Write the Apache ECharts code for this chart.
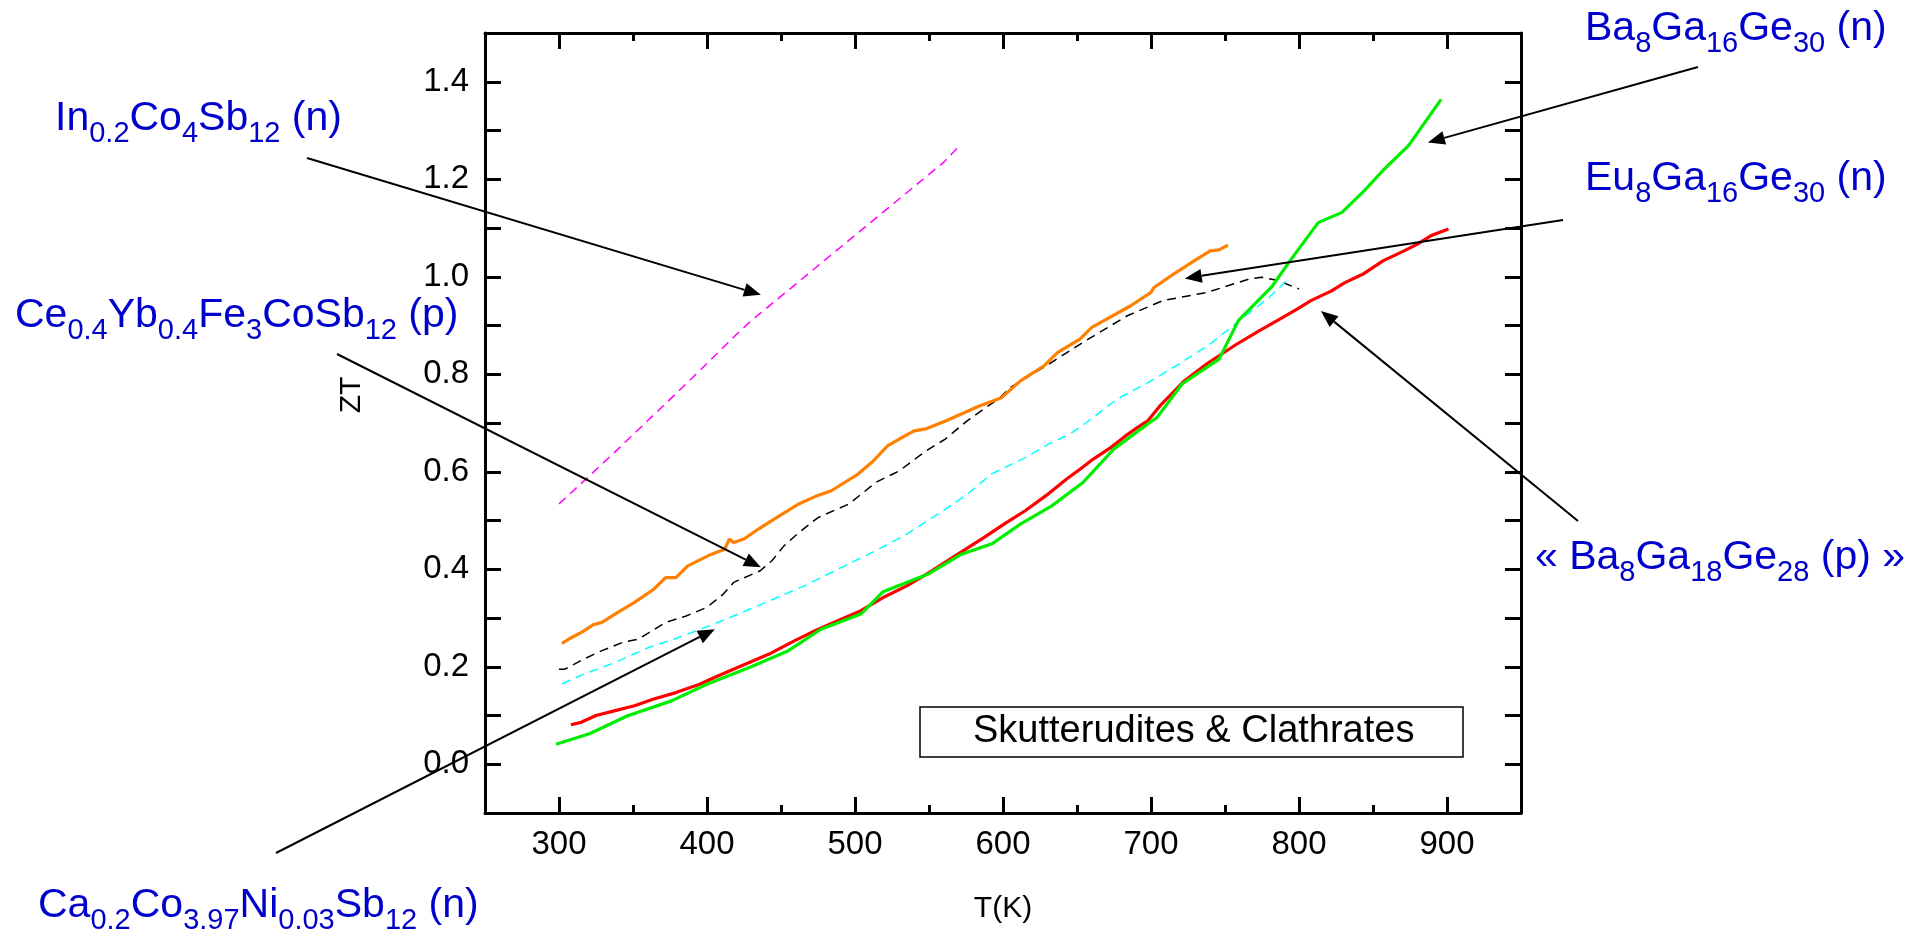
<!DOCTYPE html>
<html>
<head>
<meta charset="utf-8">
<script src="https://cdn.jsdelivr.net/npm/echarts@6/dist/echarts.min.js"></script>
<style>
  html, body { margin: 0; padding: 0; background: #fff; }
  #main { width: 1915px; height: 935px; }
</style>
</head>
<body>
<div id="main"></div>
<script>
// ZT versus temperature for skutterudite and clathrate thermoelectrics

// Axis ranges and tick labels
const xMin = 250, xMax = 950;
const yMin = -0.1, yMax = 1.5;
const xMajorTicks = [300, 400, 500, 600, 700, 800, 900];

// In0.2Co4Sb12 (n) - magenta dashed
const inT  = [300, 320, 340, 360, 380, 400, 420, 430, 440, 460, 480, 500, 520, 540, 560, 570];
const inZT = [0.534, 0.59, 0.647, 0.705, 0.763, 0.822, 0.882, 0.91, 0.935, 0.985, 1.035, 1.085, 1.135, 1.185, 1.235, 1.267];

// Ce0.4Yb0.4Fe3CoSb12 (p) - orange
const ceT  = [302, 308, 316, 323, 329, 340, 351, 364, 372, 379, 387, 401, 412, 415, 418, 425, 435, 447, 462, 473, 484, 501, 512, 522, 531, 540, 548, 562, 584, 599, 612, 628, 637, 652, 660, 686, 700, 702, 715, 731, 740, 746, 752];
const ceZT = [0.248, 0.259, 0.272, 0.286, 0.291, 0.312, 0.332, 0.359, 0.383, 0.383, 0.407, 0.428, 0.441, 0.462, 0.455, 0.462, 0.483, 0.506, 0.534, 0.549, 0.561, 0.593, 0.621, 0.653, 0.669, 0.684, 0.688, 0.705, 0.735, 0.752, 0.787, 0.818, 0.845, 0.872, 0.896, 0.94, 0.968, 0.978, 1.005, 1.036, 1.053, 1.055, 1.065];

// "Ba8Ga18Ge28 (p)" - black dashed
const bkT  = [300, 304, 317, 329, 343, 354, 372, 385, 400, 411, 418, 436, 444, 452, 462, 475, 496, 514, 530, 548, 561, 576, 598, 605, 629, 656, 684, 708, 738, 766, 775, 785, 800];
const bkZT = [0.195, 0.195, 0.216, 0.233, 0.25, 0.257, 0.291, 0.303, 0.322, 0.349, 0.373, 0.397, 0.418, 0.448, 0.475, 0.506, 0.534, 0.578, 0.602, 0.643, 0.667, 0.705, 0.752, 0.773, 0.817, 0.869, 0.92, 0.951, 0.968, 0.995, 0.999, 0.993, 0.975];

// Ca0.2Co3.97Ni0.03Sb12 (n) - cyan dashed
const caT  = [302, 317, 338, 361, 379, 400, 421, 442, 468, 493, 514, 535, 561, 576, 592, 615, 631, 645, 656, 677, 698, 719, 740, 761, 780, 794];
const caZT = [0.165, 0.185, 0.209, 0.24, 0.258, 0.282, 0.308, 0.335, 0.369, 0.407, 0.438, 0.472, 0.523, 0.554, 0.595, 0.629, 0.657, 0.677, 0.70, 0.749, 0.783, 0.821, 0.862, 0.913, 0.958, 0.999];

// Eu8Ga16Ge30 (n) - red
const euT  = [308, 315, 325, 338, 351, 364, 379, 395, 405, 421, 442, 457, 473, 488, 504, 519, 535, 550, 568, 587, 602, 615, 629, 643, 652, 661, 673, 683, 691, 698, 706, 722, 738, 757, 773, 787, 799, 808, 822, 831, 843, 857, 871, 880, 889, 901];
const euZT = [0.081, 0.086, 0.10, 0.11, 0.12, 0.134, 0.147, 0.164, 0.178, 0.199, 0.226, 0.25, 0.274, 0.294, 0.315, 0.342, 0.366, 0.393, 0.428, 0.465, 0.495, 0.52, 0.551, 0.585, 0.605, 0.626, 0.65, 0.674, 0.691, 0.705, 0.735, 0.785, 0.822, 0.86, 0.889, 0.913, 0.934, 0.951, 0.971, 0.988, 1.005, 1.033, 1.053, 1.067, 1.084, 1.098];

// Ba8Ga16Ge30 (n) - green
const baT  = [298, 321, 346, 376, 400, 429, 455, 477, 504, 519, 550, 572, 593, 612, 633, 654, 675, 701, 704, 721, 746, 759, 782, 794, 813, 829, 844, 857, 874, 896];
const baZT = [0.041, 0.063, 0.099, 0.13, 0.164, 0.199, 0.233, 0.277, 0.308, 0.354, 0.391, 0.431, 0.453, 0.493, 0.53, 0.578, 0.647, 0.705, 0.711, 0.78, 0.831, 0.91, 0.981, 1.033, 1.111, 1.132, 1.176, 1.219, 1.269, 1.364];

const FONT = 'Liberation Sans, Arial, Helvetica, sans-serif';
const BLUE = '#0000CC';

const pairs = (xs, ys) => xs.map((x, i) => [x, ys[i]]);

const axisLineStyle = { color: '#000', width: 3 };
const tickStyle = { color: '#000', width: 3 };

function xAxisPart(position, major, withLabels) {
  const a = {
    type: 'value', min: xMin, max: xMax, position: position,
    axisLine: { show: !major, onZero: false, lineStyle: axisLineStyle },
    axisTick: { show: true, inside: true, length: major ? 16 : 8, lineStyle: tickStyle },
    axisLabel: { show: false },
    splitLine: { show: false }
  };
  if (major) {
    a.axisTick.customValues = xMajorTicks;
    if (withLabels) {
      a.axisLabel = { show: true, customValues: xMajorTicks, margin: 15, fontSize: 33, color: '#000', fontFamily: FONT };
    }
  } else {
    a.interval = 50;
  }
  return a;
}

const xAxes = [
  xAxisPart('bottom', false, false),
  xAxisPart('bottom', true, true),
  xAxisPart('top', false, false),
  xAxisPart('top', true, false)
];
Object.assign(xAxes[0], {
  name: 'T(K)', nameLocation: 'middle', nameGap: 81, nameMoveOverlap: false,
  nameTextStyle: { fontSize: 30, color: '#000', fontFamily: FONT }
});

function yAxisPart(position, withLabels) {
  return {
    type: 'value', min: yMin, max: yMax, interval: 0.1, position: position,
    axisLine: { show: true, onZero: false, lineStyle: axisLineStyle },
    axisTick: { show: true, inside: true, length: 16, lineStyle: tickStyle },
    axisLabel: withLabels ? {
      show: true, margin: 16, fontSize: 33, color: '#000', fontFamily: FONT,
      formatter: v => {
        const k = Math.round(v * 10);
        return (k >= 0 && k <= 14 && k % 2 === 0) ? (k / 10).toFixed(1) : '';
      }
    } : { show: false },
    splitLine: { show: false }
  };
}
const yAxes = [yAxisPart('left', true), yAxisPart('right', false)];
Object.assign(yAxes[0], {
  name: 'ZT', nameLocation: 'middle', nameGap: 118, nameMoveOverlap: false,
  nameTextStyle: { fontSize: 30, color: '#000', fontFamily: FONT, padding: [0, 0, 0, 56] }
});

function lineSeries(name, xs, ys, color, width, dashed) {
  return {
    name: name, type: 'line', xAxisIndex: 0, yAxisIndex: 0,
    data: pairs(xs, ys), showSymbol: false, symbol: 'none', smooth: false,
    lineStyle: { color: color, width: width, type: dashed ? [9, 6] : 'solid' },
    emphasis: { disabled: true }, silent: true
  };
}

const option = {
  animation: false,
  backgroundColor: '#fff',
  grid: { left: 485, top: 33, width: 1036, height: 780, outerBoundsMode: 'none', containLabel: false },
  xAxis: xAxes,
  yAxis: yAxes,
  series: [
    lineSeries('In0.2Co4Sb12', inT, inZT, '#FF00FF', 1.5, true),
    lineSeries('Ba8Ga18Ge28', bkT, bkZT, '#000000', 1.5, true),
    lineSeries('Ca0.2Co3.97Ni0.03Sb12', caT, caZT, '#00FFFF', 1.5, true),
    lineSeries('Ce0.4Yb0.4Fe3CoSb12', ceT, ceZT, '#FF8000', 3.2, false),
    lineSeries('Eu8Ga16Ge30', euT, euZT, '#FF0000', 3.2, false),
    lineSeries('Ba8Ga16Ge30', baT, baZT, '#00EE00', 3.2, false)
  ]
};

const chart = echarts.init(document.getElementById('main'), null, { renderer: 'canvas' });
chart.setOption(option);

// Compound labels with subscripts: [text, isSubscript]
const labels = [
  { parts: [['In'], ['0.2', 1], ['Co'], ['4', 1], ['Sb'], ['12', 1], [' (n)']], x: 55, base: 133 },
  { parts: [['Ce'], ['0.4', 1], ['Yb'], ['0.4', 1], ['Fe'], ['3', 1], ['CoSb'], ['12', 1], [' (p)']], x: 15, base: 330 },
  { parts: [['Ca'], ['0.2', 1], ['Co'], ['3.97', 1], ['Ni'], ['0.03', 1], ['Sb'], ['12', 1], [' (n)']], x: 38, base: 920 },
  { parts: [['Ba'], ['8', 1], ['Ga'], ['16', 1], ['Ge'], ['30', 1], [' (n)']], x: 1585, base: 43 },
  { parts: [['Eu'], ['8', 1], ['Ga'], ['16', 1], ['Ge'], ['30', 1], [' (n)']], x: 1585, base: 193 },
  { parts: [['« Ba'], ['8', 1], ['Ga'], ['18', 1], ['Ge'], ['28', 1], [' (p) »']], x: 1535, base: 572 }
];

// Arrows: tail in pixels next to a label, head pointing at a curve (T, ZT)
const arrows = [
  { tail: [307, 158], head: [436.4, 0.963] },
  { tail: [337, 354], head: [436.4, 0.404] },
  { tail: [276, 853], head: [405.3, 0.277] },
  { tail: [1698, 67], head: [887.1, 1.2755] },
  { tail: [1563, 220], head: [722.8, 0.9966] },
  { tail: [1578, 521], head: [814.8, 0.930] }
];

const rich = {
  m: { fontSize: 41, lineHeight: 58, fontFamily: FONT, fill: BLUE },
  s: { fontSize: 29, lineHeight: 29, fontFamily: FONT, fill: BLUE, verticalAlign: 'bottom' }
};

const graphics = [];
labels.forEach(l => {
  const text = l.parts.map(p => '{' + (p[1] ? 's' : 'm') + '|' + p[0] + '}').join('');
  graphics.push({
    type: 'text', x: l.x, y: l.base - 43, z: 100, silent: true,
    style: { text: text, rich: rich, fill: BLUE, align: 'left', verticalAlign: 'top', font: '41px ' + FONT }
  });
});

const HEAD_LEN = 17, HEAD_HALF = 7;
arrows.forEach(a => {
  const tip = chart.convertToPixel({ xAxisIndex: 0, yAxisIndex: 0 }, a.head);
  const dx = tip[0] - a.tail[0], dy = tip[1] - a.tail[1];
  const len = Math.hypot(dx, dy);
  const ux = dx / len, uy = dy / len;
  const bx = tip[0] - ux * HEAD_LEN, by = tip[1] - uy * HEAD_LEN;
  const px = -uy, py = ux;
  graphics.push({
    type: 'line', z: 100, silent: true,
    shape: { x1: a.tail[0], y1: a.tail[1], x2: bx, y2: by },
    style: { stroke: '#000', lineWidth: 2 }
  });
  graphics.push({
    type: 'polygon', z: 100, silent: true,
    shape: { points: [[tip[0], tip[1]], [bx + px * HEAD_HALF, by + py * HEAD_HALF], [bx - px * HEAD_HALF, by - py * HEAD_HALF]] },
    style: { fill: '#000' }
  });
});

// Boxed caption inside the plot
graphics.push({
  type: 'rect', z: 90, silent: true,
  shape: { x: 920, y: 707, width: 543, height: 50 },
  style: { fill: '#fff', stroke: '#000', lineWidth: 1.5 }
});
graphics.push({
  type: 'text', z: 91, silent: true, x: 973, y: 732,
  style: { text: 'Skutterudites & Clathrates', fill: '#000', font: '38px ' + FONT, align: 'left', verticalAlign: 'middle' }
});

chart.setOption({ graphic: graphics });
</script>
</body>
</html>
